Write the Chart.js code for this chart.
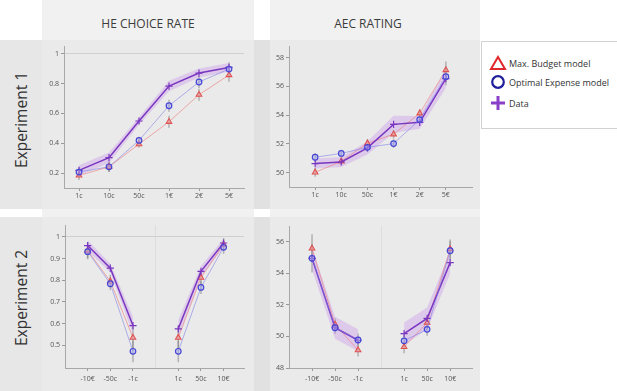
<!DOCTYPE html>
<html><head><meta charset="utf-8">
<script src="https://cdn.jsdelivr.net/npm/chart.js@4/dist/chart.umd.min.js"></script>
<style>
body{margin:0;width:617px;height:391px;position:relative;background:#fff;font-family:"Open Sans",sans-serif;overflow:hidden}
.abs{position:absolute}
canvas{position:absolute}
.hdr{position:absolute;top:0;height:40px;line-height:48px;text-align:center;font-size:12px;color:#3c3c3c}
.row{position:absolute;left:21px;transform:translate(-50%,-50%) rotate(-90deg);font-size:15.5px;color:#333;white-space:nowrap}
.leg{position:absolute;left:509px;font-size:9px;color:#333;white-space:nowrap;transform:translateY(-50%)}
</style></head><body>
<!-- background bands -->
<div class="abs" style="left:42px;top:0;width:212px;height:391px;background:#f1f1f1"></div>
<div class="abs" style="left:270px;top:0;width:210px;height:391px;background:#f1f1f1"></div>
<div class="abs" style="left:0;top:40px;width:480px;height:169px;background:#e7e7e7"></div>
<div class="abs" style="left:0;top:217px;width:480px;height:174px;background:#e7e7e7"></div>
<div class="abs" style="left:254px;top:40px;width:16px;height:169px;background:#e1e1e1"></div>
<div class="abs" style="left:254px;top:217px;width:16px;height:174px;background:#e1e1e1"></div>
<div class="abs" style="left:42px;top:40px;width:212px;height:169px;background:#eaeaea"></div>
<div class="abs" style="left:270px;top:40px;width:210px;height:169px;background:#eaeaea"></div>
<div class="abs" style="left:42px;top:217px;width:212px;height:174px;background:#eaeaea"></div>
<div class="abs" style="left:270px;top:217px;width:210px;height:174px;background:#eaeaea"></div>

<div class="hdr" style="left:42px;width:212px">HE CHOICE RATE</div>
<div class="hdr" style="left:270px;width:196px">AEC RATING</div>
<div class="row" style="top:120px">Experiment 1</div>
<div class="row" style="top:298px">Experiment 2</div>

<canvas id="c1" width="211" height="168" style="left:43px;top:40px"></canvas>
<canvas id="c2" width="210" height="168" style="left:270px;top:40px"></canvas>
<canvas id="c3" width="211" height="174" style="left:43px;top:217px"></canvas>
<canvas id="c4" width="210" height="174" style="left:270px;top:217px"></canvas>

<!-- legend -->
<div class="abs" style="left:481px;top:41px;width:150px;height:86px;background:#fff;border:1px solid #d2d2d2"></div>
<svg class="abs" style="left:489px;top:54px" width="18" height="60">
  <polygon points="9,3 16,15 2,15" fill="none" stroke="#e0282a" stroke-width="2"/>
  <circle cx="9" cy="28" r="5.8" fill="none" stroke="#1f1f9e" stroke-width="2.2"/>
  <line x1="2" y1="49" x2="16" y2="49" stroke="#8a3fc8" stroke-width="3"/>
  <line x1="9" y1="42" x2="9" y2="56" stroke="#8a3fc8" stroke-width="3"/>
</svg>
<div class="leg" style="top:63px">Max. Budget model</div>
<div class="leg" style="top:82px">Optimal Expense model</div>
<div class="leg" style="top:103px">Data</div>

<script>
// ---------- data ----------
const exp1Labels = ['1c','10c','50c','1€','2€','5€'];
const exp2Labels = ['-10€','-50c','-1c','1c','50c','10€'];

// Experiment 1, HE choice rate
const e1HeData = [0.218,0.303,0.549,0.783,0.870,0.908];
const e1HeOpt  = [0.207,0.242,0.419,0.651,0.810,0.897];
const e1HeMax  = [0.184,0.242,0.394,0.544,0.725,0.857];
const e1HeBand = [0.035,0.035,0.025,0.035,0.030,0.030];
const e1HeErr  = [0.030,0.035,0.025,0.040,0.040,0.045];

// Experiment 1, AEC rating
const e1AecData = [50.63,50.74,51.72,53.36,53.50,56.54];
const e1AecOpt  = [51.07,51.34,51.76,52.02,53.69,56.68];
const e1AecMax  = [50.02,50.79,52.04,52.67,54.13,57.14];
const e1AecBand = [0.35,0.35,0.45,0.60,0.45,0.65];
const e1AecErr  = [0.30,0.25,0.30,0.30,0.30,0.60];

// Experiment 2, HE choice rate
const e2HeData = [0.960,0.856,0.591,0.576,0.841,0.972];
const e2HeOpt  = [0.932,0.784,0.472,0.472,0.767,0.952];
const e2HeMax  = [0.937,0.795,0.535,0.535,0.812,0.965];
const e2HeBand = [0.025,0.020,0.040,0.040,0.025,0.020];
const e2HeErr  = [0.035,0.030,0.050,0.050,0.030,0.030];

// Experiment 2, AEC rating
const e2AecData = [54.95,50.55,49.76,50.18,51.14,54.68];
const e2AecOpt  = [54.95,50.55,49.78,49.72,50.45,55.43];
const e2AecMax  = [55.58,50.76,49.13,49.34,50.87,55.54];
const e2AecBand = [0.70,0.70,0.70,0.70,0.70,0.70];
const e2AecErr  = [0.90,0.40,0.40,0.40,0.40,0.60];

// ---------- helpers ----------
Chart.defaults.font.family = '"Open Sans", sans-serif';
const exp1X = exp1Labels.map((_, i) => i + 1);
const exp2X = exp2Labels.map((_, i) => i < 3 ? i + 1 : i + 2);

function pts(xs, ys, gap) {
  const out = [];
  xs.forEach((x, i) => {
    if (gap && i === 3) out.push({x: 4, y: null});
    out.push({x, y: ys[i]});
  });
  return out;
}

const errPlugin = {
  id: 'errbars',
  beforeDatasetsDraw(chart, args, opts) {
    const {ctx, scales: {x, y}} = chart;
    ctx.save();
    ctx.strokeStyle = 'rgba(120,120,120,0.5)';
    ctx.lineWidth = 1.5;
    opts.sets.forEach(s => {
      s.xs.forEach((xv, i) => {
        const px = x.getPixelForValue(xv);
        ctx.beginPath();
        ctx.moveTo(px, y.getPixelForValue(s.ys[i] - s.err[i]));
        ctx.lineTo(px, y.getPixelForValue(s.ys[i] + s.err[i]));
        ctx.stroke();
      });
    });
    ctx.restore();
  }
};

function makeChart(id, cfg) {
  const gap = cfg.gap;
  const xs = cfg.xs;
  const upper = cfg.data.map((v, i) => v + cfg.band[i]);
  const lower = cfg.data.map((v, i) => v - cfg.band[i]);
  const tickVals = gap ? [...xs, 4].sort((a, b) => a - b) : xs;
  new Chart(document.getElementById(id), {
    type: 'line',
    plugins: [errPlugin],
    data: {
      datasets: [
        {data: pts(xs, upper, gap), borderWidth: 0, pointRadius: 0, fill: false, order: 10},
        {data: pts(xs, lower, gap), borderWidth: 0, pointRadius: 0, fill: '-1',
         backgroundColor: 'rgba(200,150,235,0.38)', order: 9},
        {data: pts(xs, cfg.max, gap), borderColor: 'rgba(236,120,120,0.6)', borderWidth: 1,
         pointStyle: 'triangle', pointRadius: 3.2, pointBorderColor: '#e05050',
         pointBackgroundColor: 'rgba(240,160,160,0.6)', pointBorderWidth: 1.1, order: 3},
        {data: pts(xs, cfg.opt, gap), borderColor: 'rgba(120,120,230,0.55)', borderWidth: 1,
         pointStyle: 'circle', pointRadius: 2.8, pointBorderColor: '#4646d6',
         pointBackgroundColor: 'rgba(170,170,245,0.45)', pointBorderWidth: 1.2, order: 1},
        {data: pts(xs, cfg.data, gap), borderColor: '#7a36c0', borderWidth: 1.5,
         pointStyle: 'cross', pointRadius: 3.6, pointBorderColor: '#7a36c0', pointBorderWidth: 1.2, order: 2}
      ]
    },
    options: {
      responsive: false, animation: false, spanGaps: false,
      layout: {padding: {top: cfg.top, right: cfg.right, left: 0, bottom: 0}},
      plugins: {legend: {display: false}, tooltip: {enabled: false},
                errbars: {sets: [{xs, ys: cfg.max, err: cfg.err}, {xs, ys: cfg.opt, err: cfg.err}]}},
      elements: {line: {tension: 0}},
      scales: {
        x: {
          type: 'linear', min: cfg.xmin, max: cfg.xmax,
          afterBuildTicks: ax => { ax.ticks = tickVals.map(v => ({value: v})); },
          afterFit: ax => { ax.height = cfg.xh; },
          ticks: {
            autoSkip: false, maxRotation: 0, padding: cfg.xpad,
            color: '#555', font: {size: 7},
            callback: v => { const i = xs.indexOf(v); return i >= 0 ? cfg.labels[i] : ''; }
          },
          grid: {
            drawOnChartArea: true, tickLength: 3,
            color: c => (gap && c.tick && c.tick.value === 4) ? '#dedede' : 'rgba(0,0,0,0)',
            tickColor: c => (gap && c.tick && c.tick.value === 4) ? 'rgba(0,0,0,0)' : '#999',
            lineWidth: 1
          },
          border: {color: '#a8a8a8', width: 1}
        },
        y: {
          min: cfg.ymin, max: cfg.ymax,
          afterBuildTicks: ax => { ax.ticks = cfg.yticks.map(v => ({value: v})); },
          afterFit: ax => { ax.width = cfg.yw; },
          ticks: {color: '#555', font: {size: 7}, padding: 2, callback: v => String(v)},
          grid: {
            drawOnChartArea: true, tickLength: 3,
            color: c => (cfg.gridOne && c.tick && Math.abs(c.tick.value - 1) < 1e-9) ? '#cfcfcf' : 'rgba(0,0,0,0)',
            tickColor: '#999'
          },
          border: {color: '#a8a8a8', width: 1}
        }
      }
    }
  });
}

makeChart('c1', {labels: exp1Labels, xs: exp1X, gap: false, data: e1HeData, opt: e1HeOpt, max: e1HeMax,
  band: e1HeBand, err: e1HeErr, xmin: 0.5, xmax: 6.5, ymin: 0.1, ymax: 1.05,
  yticks: [0.2,0.4,0.6,0.8,1], gridOne: true, top: 6, right: 10, yw: 21, xh: 20, xpad: 1});
makeChart('c2', {labels: exp1Labels, xs: exp1X, gap: false, data: e1AecData, opt: e1AecOpt, max: e1AecMax,
  band: e1AecBand, err: e1AecErr, xmin: 0, xmax: 7, ymin: 49, ymax: 58.8,
  yticks: [50,52,54,56,58], gridOne: false, top: 6, right: 8, yw: 19, xh: 21, xpad: 1});
makeChart('c3', {labels: exp2Labels, xs: exp2X, gap: true, data: e2HeData, opt: e2HeOpt, max: e2HeMax,
  band: e2HeBand, err: e2HeErr, xmin: 0, xmax: 7.9, ymin: 0.395, ymax: 1.055,
  yticks: [0.5,0.6,0.7,0.8,0.9,1], gridOne: true, top: 8, right: 10, yw: 22, xh: 23, xpad: 4});
makeChart('c4', {labels: exp2Labels, xs: exp2X, gap: true, data: e2AecData, opt: e2AecOpt, max: e2AecMax,
  band: e2AecBand, err: e2AecErr, xmin: 0, xmax: 7.95, ymin: 48, ymax: 57,
  yticks: [48,50,52,54,56], gridOne: false, top: 9, right: 8, yw: 19, xh: 23, xpad: 4});
</script>
</body></html>
